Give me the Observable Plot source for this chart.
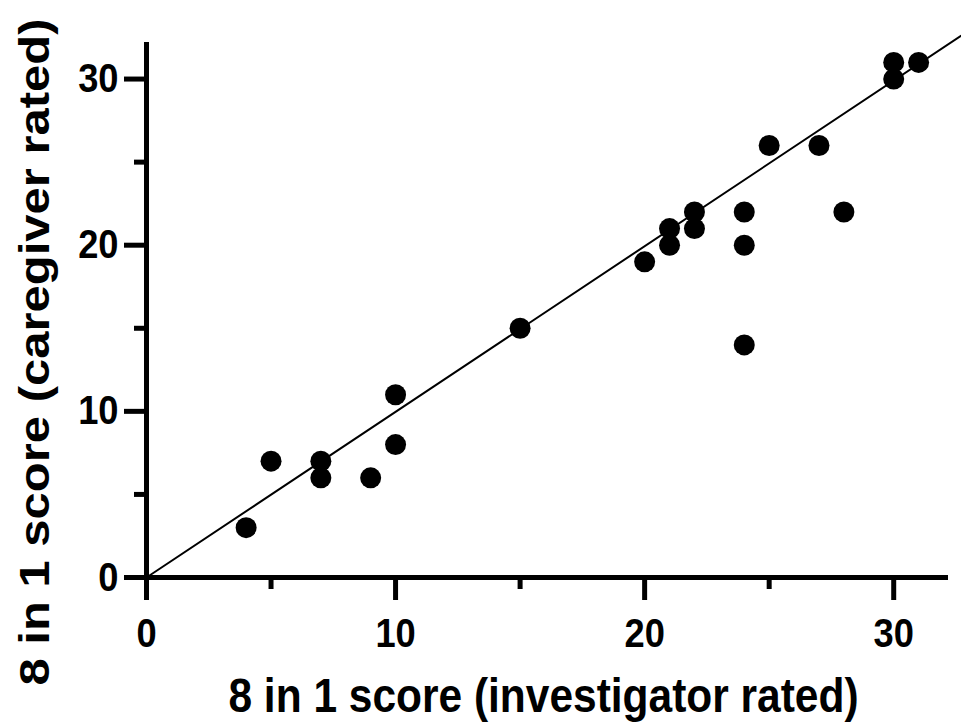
<!DOCTYPE html>
<html><head><meta charset="utf-8">
<script src="https://cdn.jsdelivr.net/npm/d3@7"></script>
<script src="https://cdn.jsdelivr.net/npm/@observablehq/plot@0.6"></script>
<style>body{margin:0;background:#fff} #chart{width:961px;height:723px}</style>
</head><body><div id="chart"></div>
<script>
// Data
const investigator = [4, 5, 7, 7, 9, 10, 10, 15, 20, 21, 21, 22, 22, 24, 24, 24, 25, 27, 28, 30, 30, 31];
const caregiver    = [3, 7, 7, 6, 6, 11, 8, 15, 19, 21, 20, 22, 21, 22, 20, 14, 26, 26, 22, 31, 30, 31];
const lineX = [0, 32.7];
const lineY = [0, 32.6];
const majorTicks = [0, 10, 20, 30];
const minorTicks = [5, 15, 25];
const xTitle = "8 in 1 score (investigator rated)";
const yTitle = "8 in 1 score (caregiver rated)";

const points = investigator.map((x, i) => ({x, y: caregiver[i]}));
const fit = lineX.map((x, i) => ({x, y: lineY[i]}));

const plot = Plot.plot({
  width: 961, height: 723,
  marginLeft: 146, marginRight: 13, marginTop: 42, marginBottom: 146,
  style: {fontFamily: "'Liberation Sans', Arial, sans-serif", fontWeight: "bold", background: "#fff", color: "#000"},
  x: {domain: [0, 32.2], label: null},
  y: {domain: [0, 32.2], label: null},
  marks: [
    Plot.line(fit, {x: "x", y: "y", stroke: "#000", strokeWidth: 2}),
    Plot.dot(points, {x: "x", y: "y", r: 10.5, fill: "#000", stroke: "none"}),
    Plot.axisX({ticks: minorTicks, tickSize: 12, strokeWidth: 5, tickFormat: () => "", label: null}),
    Plot.axisY({ticks: minorTicks, tickSize: 12, strokeWidth: 5, tickFormat: () => "", label: null}),
    Plot.axisX({ticks: majorTicks, tickSize: 23, tickPadding: 17, strokeWidth: 5, fontSize: 41, tickFormat: d => String(d), label: null}),
    Plot.axisY({ticks: majorTicks, tickSize: 22, tickPadding: 6, strokeWidth: 5, fontSize: 41, tickFormat: d => String(d), label: null}),
    Plot.ruleY([0], {stroke: "#000", strokeWidth: 5}),
    Plot.ruleX([0], {stroke: "#000", strokeWidth: 5}),
    Plot.text([xTitle], {frameAnchor: "bottom", textAnchor: "middle", lineAnchor: "middle", dx: -4, dy: 119, fontSize: 48, fontWeight: "bold", fill: "#000"}),
    Plot.text([yTitle], {frameAnchor: "left", textAnchor: "middle", lineAnchor: "middle", rotate: -90, dx: -111, dy: 42, fontSize: 49, fontWeight: "bold", fill: "#000"})
  ]
});
document.getElementById("chart").appendChild(plot);

// Mimic the horizontally condensed lettering of the reference
const s = 0.885;
plot.querySelectorAll("text").forEach(el => {
  const t = el.getAttribute("transform") || "";
  const x0 = +(el.getAttribute("x") || 0);
  if (/rotate/.test(t)) {
    el.setAttribute("transform", t + ` scale(1,${s})`);
  } else {
    el.setAttribute("transform", t + ` translate(${x0},0) scale(${s},1) translate(${-x0},0)`);
  }
});
</script>
</body></html>
